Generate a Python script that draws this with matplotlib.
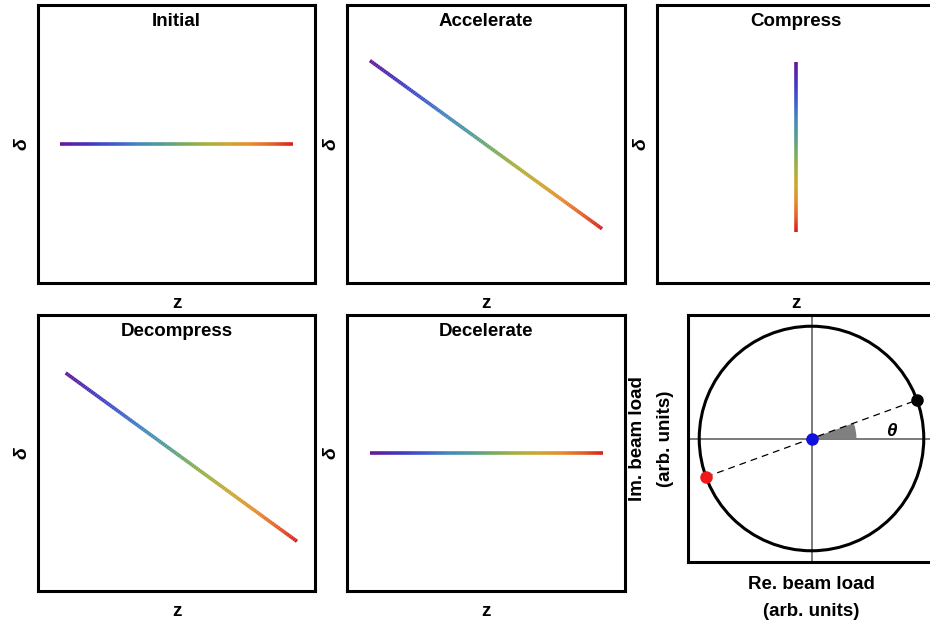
import numpy as np
import matplotlib
matplotlib.use("Agg")
import matplotlib.pyplot as plt
from matplotlib.collections import LineCollection
from matplotlib.colors import LinearSegmentedColormap
from matplotlib.patches import Circle, Wedge

plt.rcParams['font.family'] = ['Liberation Sans', 'DejaVu Sans']
plt.rcParams['font.weight'] = 'bold'

# ---------------- data ----------------
panel_titles = ['Initial', 'Accelerate', 'Compress', 'Decompress', 'Decelerate']
z_start = [-0.84, -0.835, 0.0, -0.80, -0.835]
z_end = [0.84, 0.835, 0.0, 0.87, 0.84]
delta_start = [0.0, 0.60, 0.59, 0.58, 0.0]
delta_end = [0.0, -0.61, -0.63, -0.64, 0.0]

theta_deg = 20.0          # phase of beam load
load_radius = 1.0
wedge_radius = 0.4

# ---------------- style ----------------
cmap = LinearSegmentedColormap.from_list('rainbow_m', [
    (0.00, '#651a96'), (0.12, '#4236c0'), (0.22, '#3f58cc'),
    (0.33, '#4487bd'), (0.42, '#4d9a9e'), (0.52, '#74ab62'),
    (0.62, '#a5b03e'), (0.72, '#cca830'), (0.82, '#e58c2c'),
    (0.91, '#e4602a'), (1.00, '#d81c1c')])

W, H = 930, 626
fig = plt.figure(figsize=(W / 100, H / 100), dpi=100)


def px_axes(left, top, width, height):
    return fig.add_axes([left / W, (H - top - height) / H, width / W, height / H])


FS = 13.5
FRAME_LW = 2.2

panel_boxes = [(38, 5, 277, 278), (347, 5, 278, 278), (657, 5, 278, 278),
               (38, 315, 277, 276), (347, 315, 278, 276)]


def style_frame(ax):
    ax.set_xticks([])
    ax.set_yticks([])
    for s in ax.spines.values():
        s.set_linewidth(FRAME_LW)
        s.set_color('black')


for i, box in enumerate(panel_boxes):
    ax = px_axes(*box)
    ax.set_xlim(-1, 1)
    ax.set_ylim(-1, 1)
    style_frame(ax)
    # gradient rendering of the straight bunch segment
    t = np.linspace(0, 1, 120)
    zz = z_start[i] + (z_end[i] - z_start[i]) * t
    dd = delta_start[i] + (delta_end[i] - delta_start[i]) * t
    pts = np.column_stack([zz, dd]).reshape(-1, 1, 2)
    segs = np.concatenate([pts[:-1], pts[1:]], axis=1)
    lc = LineCollection(segs, cmap=cmap, linewidths=2.6, capstyle='butt',
                        antialiaseds=True)
    lc.set_array(t[:-1])
    lc.set_clim(0, 1)
    ax.add_collection(lc)
    ax.annotate(panel_titles[i], xy=(0.5, 1), xycoords='axes fraction',
                xytext=(0, -20.5), textcoords='offset pixels',
                ha='center', va='baseline', fontsize=FS, fontweight='bold')
    ax.annotate('z', xy=(0.5, 0), xycoords='axes fraction',
                xytext=(0, -25.5), textcoords='offset pixels',
                ha='center', va='baseline', fontsize=FS, fontweight='bold')
    ax.annotate('δ', xy=(0, 0.5), xycoords='axes fraction',
                xytext=(-12, 0), textcoords='offset pixels',
                ha='center', va='baseline', rotation=90, rotation_mode='anchor',
                fontsize=FS + 0.5, fontweight='bold', fontstyle='italic')

# ---------------- beam load phasor panel ----------------
axc = px_axes(688, 315, 247, 247)
lim = 1.1
axc.set_xlim(-lim, lim)
axc.set_ylim(-lim, lim)
style_frame(axc)
axc.axhline(0, color='#707070', lw=1.3, zorder=1)
axc.axvline(0, color='#707070', lw=1.3, zorder=1)
axc.add_patch(Circle((0, 0), load_radius, fill=False, ec='black', lw=2.2, zorder=2))
axc.add_patch(Wedge((0, 0), wedge_radius, 0, theta_deg, fc='#808080', ec='none', zorder=3))
th = np.deg2rad(theta_deg)
bx, by = load_radius * np.cos(th), load_radius * np.sin(th)
axc.plot([-bx, bx], [-by, by], color='black', lw=0.9, ls=(0, (5.5, 4)), zorder=4)
axc.plot([bx], [by], 'o', color='black', ms=8, zorder=5)
axc.plot([-bx], [-by], 'o', color='#f01818', ms=8, zorder=5)
axc.plot([0], [0], 'o', color='#1010e0', ms=8, zorder=5)
axc.text(0.71, 0.02, 'θ', ha='center', va='baseline', fontsize=FS,
         fontweight='bold', fontstyle='italic', zorder=6)

axc.annotate('Re. beam load', xy=(0.5, 0), xycoords='axes fraction',
             xytext=(0, -27), textcoords='offset pixels',
             ha='center', va='baseline', fontsize=FS, fontweight='bold')
axc.annotate('(arb. units)', xy=(0.5, 0), xycoords='axes fraction',
             xytext=(0, -54), textcoords='offset pixels',
             ha='center', va='baseline', fontsize=FS, fontweight='bold')
axc.annotate('Im. beam load', xy=(0, 0.5), xycoords='axes fraction',
             xytext=(-46, 0), textcoords='offset pixels',
             ha='center', va='baseline', rotation=90, rotation_mode='anchor',
             fontsize=FS, fontweight='bold')
axc.annotate('(arb. units)', xy=(0, 0.5), xycoords='axes fraction',
             xytext=(-18, 0), textcoords='offset pixels',
             ha='center', va='baseline', rotation=90, rotation_mode='anchor',
             fontsize=FS, fontweight='bold')

fig.savefig('out.png', dpi=100)
